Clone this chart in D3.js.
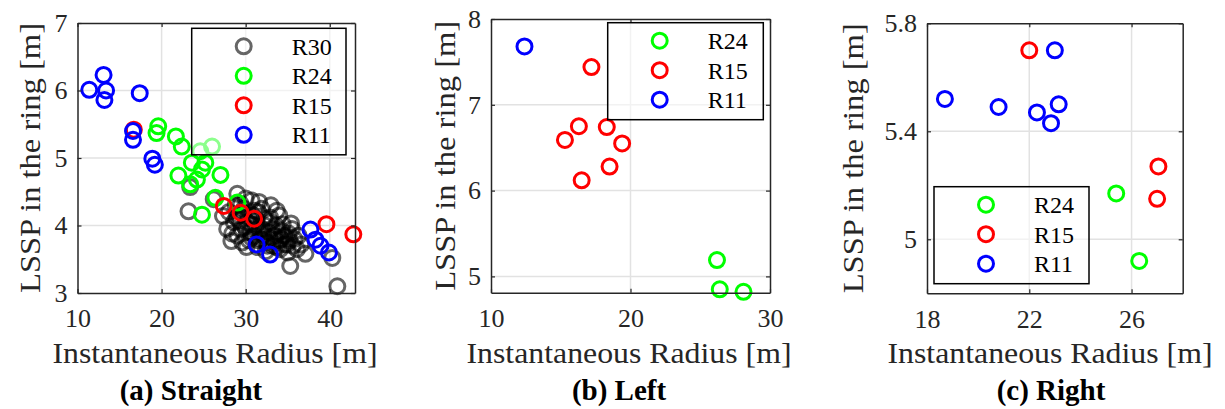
<!DOCTYPE html>
<html>
<head>
<meta charset="utf-8">
<script src="https://cdn.jsdelivr.net/npm/d3@7"></script>
<style>
  body { margin: 0; background: #fff; }
</style>
</head>
<body>
<script>
// values: [radius, LSSP]
const straightR30 = [
  [23.2,4.21],[23.4,4.57],[26.2,4.39],[29.0,4.47],[30.7,4.37],[33.7,4.22],[35.4,4.03],
  [28.3,3.77],[30.1,3.68],[35.3,3.40],[37.1,3.58],[36.1,3.65],[40.3,3.52],[40.9,3.10],
  [27.3,4.14],[28.0,4.20],[28.6,4.05],[29.2,4.15],[29.5,3.95],[29.8,4.25],[30.2,4.05],
  [30.5,3.90],[30.8,4.15],[31.0,3.85],[31.2,4.00],[31.5,4.20],[31.8,3.80],[32.0,3.95],
  [32.2,4.10],[32.5,3.75],[32.7,3.90],[33.0,4.05],[33.2,3.70],[33.4,3.85],[33.6,4.00],
  [33.9,3.78],[34.1,3.65],[34.3,3.92],[34.6,3.72],[34.8,3.85],[35.0,3.60],[35.2,3.78],
  [35.6,3.70],[29.0,3.85],[29.6,3.75],[30.4,3.78],[31.4,3.68],[32.4,3.62],[28.8,4.30],
  [27.8,3.95],[30.0,4.40],[31.6,4.35],[34.0,4.15],[33.0,4.30],[36.3,3.85],[35.5,3.95],
  [28.4,3.88],[31.9,4.25],[29.4,4.32],
  [29.3,4.08],[29.9,3.98],[30.3,4.12],[30.6,4.02],[30.9,3.95],[31.3,4.08],[31.7,3.92],
  [32.1,3.85],[32.3,4.00],[32.8,3.82],[33.1,3.95],[33.5,3.78],[33.8,3.90],[34.2,3.80],
  [34.5,3.85],[34.9,3.72],[35.1,3.88],[30.7,3.82],[31.5,3.78],[32.6,3.70],[33.7,3.68],
  [28.9,4.12],[29.7,4.18],[31.1,4.22],[32.9,4.12],[34.4,4.02],[35.8,3.80],[36.6,3.72]
];
const straightR24 = [
  [19.6,5.47],[19.4,5.37],[21.7,5.32],[22.4,5.17],[24.6,5.10],[26.0,5.17],[23.6,4.93],
  [25.2,4.93],[24.8,4.83],[27.0,4.75],[22.0,4.74],[23.4,4.61],[24.2,4.68],[26.4,4.41],
  [29.0,4.34],[24.8,4.16]
];
const straightR15 = [[16.7,5.42],[27.4,4.29],[29.4,4.19],[31.0,4.10],[39.6,4.02],[42.8,3.87]];
const straightR11 = [
  [11.4,6.01],[13.1,6.23],[13.4,6.00],[13.2,5.86],[17.4,5.96],[16.6,5.40],[16.6,5.27],
  [18.9,4.99],[19.2,4.90],[31.3,3.72],[32.9,3.57],[37.7,3.94],[38.3,3.79],[38.9,3.70],[39.9,3.60]
];

const leftR24 = [[26.2,5.19],[26.4,4.85],[28.1,4.82]];
const leftR15 = [[17.2,7.44],[16.3,6.75],[18.3,6.74],[15.3,6.59],[19.4,6.55],[18.5,6.28],[16.5,6.12]];
const leftR11 = [[12.4,7.68]];

const rightR24 = [[25.4,5.17],[26.3,4.92]];
const rightR15 = [[22.0,5.70],[27.05,5.27],[27.0,5.15]];
const rightR11 = [[23.0,5.70],[18.7,5.52],[20.8,5.49],[22.3,5.47],[23.15,5.50],[22.85,5.43]];

const straightXTicks = [10, 20, 30, 40], straightYTicks = [3, 4, 5, 6, 7];
const leftXTicks = [10, 20, 30], leftYTicks = [5, 6, 7, 8];
const rightXTicks = [18, 22, 26], rightYTicks = [5, 5.4, 5.8];

const captions = ["(a) Straight", "(b) Left", "(c) Right"];
const xTitle = "Instantaneous Radius [m]";
const yTitle = "LSSP in the ring [m]";

const colors = {R30: "#000000", R24: "#00ff00", R15: "#ff0000", R11: "#0000ff"};
const opac = {R30: 0.6, R24: 1, R15: 1, R11: 1};

const panels = [
  {left: 77.5, right: 355, top: 23, bottom: 293, xDomain: [10, 43], yDomain: [3, 7],
   xTicks: straightXTicks, yTicks: straightYTicks, yFmt: d3.format("d"),
   series: [["R30", straightR30], ["R24", straightR24], ["R15", straightR15], ["R11", straightR11]],
   legend: {x: 191.7, y: 28.3, w: 154.3}, titleX: 40, xTitleX: 215, caption: captions[0], capX: 191},
  {left: 491, right: 770, top: 19, bottom: 292.7, xDomain: [10, 30], yDomain: [4.81, 8],
   xTicks: leftXTicks, yTicks: leftYTicks, yFmt: d3.format("d"),
   series: [["R24", leftR24], ["R15", leftR15], ["R11", leftR11]],
   legend: {x: 607.7, y: 22.7, w: 155.6}, titleX: 455, xTitleX: 629, caption: captions[1], capX: 619},
  {left: 927, right: 1182.7, top: 23.3, bottom: 293.3, xDomain: [18, 28], yDomain: [4.8, 5.8],
   xTicks: rightXTicks, yTicks: rightYTicks, yFmt: d => d === 5 ? "5" : d3.format(".1f")(d),
   series: [["R24", rightR24], ["R15", rightR15], ["R11", rightR11]],
   legend: {x: 934, y: 186.7, w: 155}, titleX: 863, xTitleX: 1050, caption: captions[2], capX: 1051}
];

const serif = "Liberation Serif";

const svg = d3.select("body").append("svg")
    .attr("width", 1225)
    .attr("height", 409)
    .attr("font-family", serif);

const axisColor = "#262626";

function styleAxis(sel) {
  sel.attr("font-family", serif).attr("font-size", null);
  sel.select(".domain").attr("stroke", axisColor).attr("stroke-width", 1.5);
  sel.selectAll(".tick line").attr("stroke", axisColor).attr("stroke-width", 1.2);
  sel.selectAll(".tick text").attr("fill", axisColor).attr("font-size", 26);
}

panels.forEach(p => {
  const x = d3.scaleLinear().domain(p.xDomain).range([p.left, p.right]);
  const y = d3.scaleLinear().domain(p.yDomain).range([p.bottom, p.top]);
  const g = svg.append("g");

  // grid
  g.append("g").selectAll("line")
    .data(p.xTicks.filter(d => x(d) > p.left + 2 && x(d) < p.right - 2))
    .join("line")
      .attr("x1", d => x(d)).attr("x2", d => x(d))
      .attr("y1", p.top).attr("y2", p.bottom)
      .attr("stroke", "#e2e2e2").attr("stroke-width", 1.5);
  g.append("g").selectAll("line")
    .data(p.yTicks.filter(d => y(d) > p.top + 2 && y(d) < p.bottom - 2))
    .join("line")
      .attr("y1", d => y(d)).attr("y2", d => y(d))
      .attr("x1", p.left).attr("x2", p.right)
      .attr("stroke", "#e2e2e2").attr("stroke-width", 1.5);

  // points
  p.series.forEach(([name, vals]) => {
    g.append("g").selectAll("circle")
      .data(vals)
      .join("circle")
        .attr("cx", d => x(d[0]))
        .attr("cy", d => y(d[1]))
        .attr("r", 7.5)
        .attr("fill", "none")
        .attr("stroke", colors[name])
        .attr("stroke-opacity", opac[name])
        .attr("stroke-width", 3);
  });

  // axes (box with inward ticks)
  g.append("g").attr("transform", `translate(0,${p.bottom})`)
    .call(d3.axisBottom(x).tickValues(p.xTicks).tickSizeInner(-4).tickSizeOuter(0).tickPadding(16).tickFormat(d3.format("d")))
    .call(styleAxis);
  g.append("g").attr("transform", `translate(0,${p.top})`)
    .call(d3.axisTop(x).tickValues(p.xTicks).tickSizeInner(-4).tickSizeOuter(0).tickFormat(""))
    .call(styleAxis);
  g.append("g").attr("transform", `translate(${p.left},0)`)
    .call(d3.axisLeft(y).tickValues(p.yTicks).tickSizeInner(-4).tickSizeOuter(0).tickPadding(10).tickFormat(p.yFmt))
    .call(styleAxis);
  g.append("g").attr("transform", `translate(${p.right},0)`)
    .call(d3.axisRight(y).tickValues(p.yTicks).tickSizeInner(-4).tickSizeOuter(0).tickFormat(""))
    .call(styleAxis);

  // legend
  const rowH = 29.5;
  const lg = g.append("g").attr("transform", `translate(${p.legend.x},${p.legend.y})`);
  lg.append("rect")
    .attr("width", p.legend.w)
    .attr("height", p.series.length * rowH + 8.5)
    .attr("fill", "#fff").attr("fill-opacity", 0.55)
    .attr("stroke", "#000").attr("stroke-width", 1.5);
  const rows = lg.selectAll("g.row").data(p.series).join("g")
      .attr("class", "row")
      .attr("transform", (d, i) => `translate(0,${18 + i * rowH})`);
  rows.append("circle")
    .attr("cx", 52).attr("r", 7.5)
    .attr("fill", "none")
    .attr("stroke", d => colors[d[0]])
    .attr("stroke-opacity", d => opac[d[0]])
    .attr("stroke-width", 3);
  rows.append("text")
    .attr("x", 100).attr("dy", "0.35em")
    .attr("font-size", 24)
    .text(d => d[0]);

  // titles
  g.append("text")
    .attr("x", p.xTitleX).attr("y", 363)
    .attr("text-anchor", "middle")
    .attr("fill", axisColor)
    .attr("textLength", 325).attr("lengthAdjust", "spacingAndGlyphs")
    .attr("font-size", 30)
    .text(xTitle);
  g.append("text")
    .attr("transform", `translate(${p.titleX},${(p.top + p.bottom) / 2}) rotate(-90)`)
    .attr("text-anchor", "middle")
    .attr("fill", axisColor)
    .attr("textLength", 270).attr("lengthAdjust", "spacingAndGlyphs")
    .attr("font-size", 30)
    .text(yTitle);
  g.append("text")
    .attr("x", p.capX).attr("y", 400)
    .attr("text-anchor", "middle")
    .attr("font-size", 29).attr("font-weight", "bold")
    .text(p.caption);
});
</script>
</body>
</html>
